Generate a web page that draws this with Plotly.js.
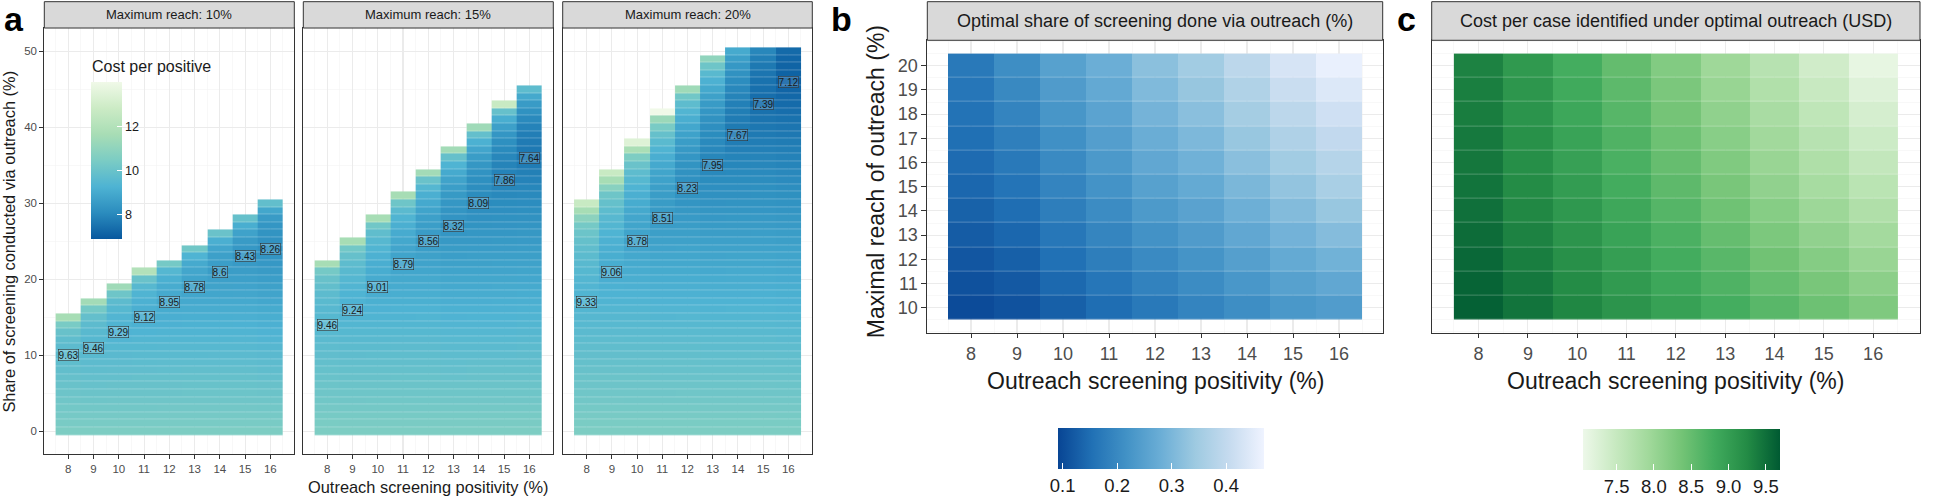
<!DOCTYPE html>
<html>
<head>
<meta charset="utf-8">
<script src="https://cdn.plot.ly/plotly-3.0.1.min.js"></script>
<style>
html,body{margin:0;padding:0;background:#fff;}
#chart{width:1946px;height:503px;}
</style>
</head>
<body>
<div id="chart"></div>
<script>
// ---------------- DATA ----------------
const positivity = [8, 9, 10, 11, 12, 13, 14, 15, 16];
const shareLevels = [0,1,2,3,4,5,6,7,8,9,10,11,12,13,14,15,16,17,18,19,20,21,22,23,24,25,26,27,28,29,30,31,32,33,34,35,36,37,38,39,40,41,42,43,44,45,46,47,48,49,50];
const reachLevels = [10, 11, 12, 13, 14, 15, 16, 17, 18, 19, 20];
const facetReach = [10, 15, 20];

// Panel a: cost per positive by share (index = share %), one array per positivity column
const costReach10 = [
  [10.5,10.41,10.33,10.24,10.15,10.07,9.98,9.89,9.80,9.72,9.63,9.66,9.75,9.95,10.4,11.6],
  [10.5,10.41,10.31,10.22,10.12,10.03,9.93,9.84,9.74,9.65,9.55,9.46,9.49,9.55,9.65,9.85,10.3,11.5],
  [10.5,10.41,10.31,10.22,10.13,10.03,9.94,9.85,9.76,9.66,9.57,9.48,9.38,9.29,9.32,9.38,9.48,9.65,10.1,11.4],
  [10.5,10.41,10.32,10.22,10.13,10.04,9.95,9.86,9.76,9.67,9.58,9.49,9.40,9.30,9.21,9.12,9.15,9.22,9.32,9.5,10.0,12.0],
  [10.5,10.41,10.32,10.23,10.14,10.04,9.95,9.86,9.77,9.68,9.59,9.50,9.41,9.31,9.22,9.13,9.04,8.95,8.98,9.05,9.18,9.45,10.3],
  [10.5,10.41,10.32,10.23,10.14,10.05,9.96,9.87,9.78,9.69,9.59,9.50,9.41,9.32,9.23,9.14,9.05,8.96,8.87,8.78,8.81,8.88,9.0,9.3,10.2],
  [10.5,10.41,10.32,10.23,10.14,10.05,9.96,9.87,9.78,9.69,9.60,9.50,9.41,9.32,9.23,9.14,9.05,8.96,8.87,8.78,8.69,8.60,8.63,8.7,8.85,9.15,10.0],
  [10.5,10.41,10.32,10.23,10.14,10.05,9.96,9.87,9.78,9.69,9.60,9.51,9.42,9.33,9.24,9.15,9.06,8.97,8.88,8.79,8.70,8.61,8.52,8.43,8.46,8.55,8.75,9.1,9.9],
  [10.5,10.41,10.31,10.22,10.13,10.03,9.94,9.85,9.75,9.66,9.57,9.47,9.38,9.29,9.19,9.10,9.01,8.91,8.82,8.73,8.63,8.54,8.45,8.35,8.26,8.28,8.32,8.4,8.55,8.9,9.8]
];
const costReach15 = [
  [10.5,10.43,10.35,10.28,10.20,10.13,10.05,9.98,9.91,9.83,9.76,9.68,9.61,9.53,9.46,9.48,9.52,9.58,9.66,9.78,9.95,10.3,11.6],
  [10.5,10.42,10.34,10.26,10.18,10.11,10.03,9.95,9.87,9.79,9.71,9.63,9.55,9.48,9.40,9.32,9.24,9.26,9.3,9.36,9.44,9.55,9.7,9.9,10.25,11.6],
  [10.5,10.42,10.34,10.26,10.19,10.11,10.03,9.95,9.87,9.79,9.72,9.64,9.56,9.48,9.40,9.32,9.25,9.17,9.09,9.01,9.03,9.07,9.13,9.22,9.34,9.5,9.75,10.2,11.6],
  [10.5,10.42,10.34,10.27,10.19,10.11,10.03,9.96,9.88,9.80,9.72,9.65,9.57,9.49,9.41,9.33,9.26,9.18,9.10,9.02,8.95,8.87,8.79,8.81,8.85,8.92,9.02,9.15,9.33,9.6,10.1,11.6],
  [10.5,10.42,10.34,10.27,10.19,10.11,10.03,9.96,9.88,9.80,9.72,9.65,9.57,9.49,9.41,9.34,9.26,9.18,9.10,9.03,8.95,8.87,8.79,8.72,8.64,8.56,8.58,8.62,8.7,8.81,8.96,9.16,9.45,10.0,11.5],
  [10.5,10.42,10.34,10.26,10.18,10.10,10.02,9.93,9.85,9.77,9.69,9.61,9.53,9.45,9.37,9.29,9.21,9.13,9.05,8.97,8.89,8.80,8.72,8.64,8.56,8.48,8.40,8.32,8.34,8.37,8.42,8.5,8.62,8.78,9.0,9.3,9.9,11.5],
  [10.5,10.42,10.34,10.26,10.18,10.10,10.02,9.94,9.86,9.78,9.70,9.62,9.54,9.46,9.38,9.30,9.21,9.13,9.05,8.97,8.89,8.81,8.73,8.65,8.57,8.49,8.41,8.33,8.25,8.17,8.09,8.11,8.14,8.2,8.29,8.42,8.6,8.85,9.2,9.85,11.4],
  [10.5,10.42,10.34,10.26,10.18,10.10,10.02,9.94,9.86,9.78,9.70,9.62,9.54,9.46,9.38,9.30,9.22,9.14,9.06,8.98,8.90,8.82,8.74,8.66,8.58,8.50,8.42,8.34,8.26,8.18,8.10,8.02,7.94,7.86,7.88,7.91,7.97,8.06,8.2,8.4,8.7,9.1,9.9,12.7],
  [10.5,10.42,10.34,10.26,10.18,10.10,10.02,9.94,9.86,9.79,9.71,9.63,9.55,9.47,9.39,9.31,9.23,9.15,9.07,8.99,8.91,8.83,8.75,8.67,8.59,8.51,8.44,8.36,8.28,8.20,8.12,8.04,7.96,7.88,7.80,7.72,7.64,7.66,7.7,7.77,7.88,8.04,8.26,8.55,8.95,9.7]
];
const costReach20 = [
  [10.5,10.43,10.36,10.29,10.22,10.16,10.09,10.02,9.95,9.88,9.81,9.74,9.67,9.61,9.54,9.47,9.40,9.33,9.35,9.38,9.42,9.48,9.55,9.64,9.75,9.88,10.05,10.3,10.9,11.6,12.7],
  [10.5,10.43,10.36,10.29,10.23,10.16,10.09,10.02,9.95,9.88,9.81,9.75,9.68,9.61,9.54,9.47,9.40,9.33,9.27,9.20,9.13,9.06,9.08,9.11,9.16,9.22,9.3,9.4,9.52,9.67,9.86,10.1,10.8,11.6,12.7],
  [10.5,10.43,10.36,10.29,10.22,10.16,10.09,10.02,9.95,9.88,9.81,9.74,9.67,9.61,9.54,9.47,9.40,9.33,9.26,9.19,9.12,9.06,8.99,8.92,8.85,8.78,8.8,8.83,8.88,8.95,9.04,9.15,9.3,9.48,9.7,10.0,10.5,11.7,13.4],
  [10.5,10.43,10.36,10.29,10.22,10.14,10.07,10.00,9.93,9.86,9.79,9.72,9.65,9.58,9.51,9.43,9.36,9.29,9.22,9.15,9.08,9.01,8.94,8.86,8.79,8.72,8.65,8.58,8.51,8.53,8.56,8.6,8.66,8.74,8.84,8.97,9.13,9.33,9.58,9.9,10.4,11.3,14.0],
  [10.5,10.43,10.36,10.29,10.22,10.15,10.07,10.00,9.93,9.86,9.79,9.72,9.65,9.58,9.51,9.44,9.37,9.29,9.22,9.15,9.08,9.01,8.94,8.87,8.80,8.73,8.66,8.59,8.51,8.44,8.37,8.30,8.23,8.25,8.28,8.33,8.4,8.49,8.6,8.74,8.91,9.12,9.38,9.7,10.2,11.4],
  [10.5,10.43,10.35,10.28,10.21,10.14,10.06,9.99,9.92,9.84,9.77,9.70,9.63,9.55,9.48,9.41,9.33,9.26,9.19,9.12,9.04,8.97,8.90,8.82,8.75,8.68,8.61,8.53,8.46,8.39,8.31,8.24,8.17,8.10,8.02,7.95,7.97,8.0,8.04,8.1,8.18,8.28,8.4,8.55,8.73,8.95,9.22,9.55,10.1,11.0],
  [10.5,10.43,10.35,10.28,10.21,10.14,10.06,9.99,9.92,9.85,9.77,9.70,9.63,9.56,9.48,9.41,9.34,9.27,9.19,9.12,9.05,8.98,8.90,8.83,8.76,8.69,8.61,8.54,8.47,8.39,8.32,8.25,8.18,8.10,8.03,7.96,7.89,7.81,7.74,7.67,7.69,7.72,7.76,7.82,7.9,8.0,8.12,8.27,8.45,8.67,9.0],
  [10.5,10.43,10.36,10.28,10.21,10.14,10.07,9.99,9.92,9.85,9.78,9.70,9.63,9.56,9.49,9.42,9.34,9.27,9.20,9.13,9.05,8.98,8.91,8.84,8.76,8.69,8.62,8.55,8.48,8.40,8.33,8.26,8.19,8.11,8.04,7.97,7.90,7.82,7.75,7.68,7.61,7.53,7.46,7.39,7.41,7.44,7.49,7.56,7.65,7.78,7.98],
  [10.5,10.43,10.35,10.28,10.21,10.13,10.06,9.99,9.91,9.84,9.77,9.69,9.62,9.54,9.47,9.40,9.32,9.25,9.18,9.10,9.03,8.96,8.88,8.81,8.74,8.66,8.59,8.52,8.44,8.37,8.30,8.22,8.15,8.07,8.00,7.93,7.85,7.78,7.71,7.63,7.56,7.49,7.41,7.34,7.27,7.19,7.12,7.14,7.17,7.22,7.3]
];

// Labelled optimum (share %, cost) per positivity column, per facet
const optShare10 = [10, 11, 13, 15, 17, 19, 21, 23, 24];
const optCost10  = [9.63, 9.46, 9.29, 9.12, 8.95, 8.78, 8.6, 8.43, 8.26];
const optShare15 = [14, 16, 19, 22, 25, 27, 30, 33, 36];
const optCost15  = [9.46, 9.24, 9.01, 8.79, 8.56, 8.32, 8.09, 7.86, 7.64];
const optShare20 = [17, 21, 25, 28, 32, 35, 39, 43, 46];
const optCost20  = [9.33, 9.06, 8.78, 8.51, 8.23, 7.95, 7.67, 7.39, 7.12];

// Panel b: optimal share (fraction), rows = reach 10..20, columns = positivity 8..16
const optShareGrid = [
  [0.100,0.110,0.130,0.150,0.170,0.190,0.210,0.230,0.240],
  [0.108,0.120,0.142,0.164,0.186,0.206,0.228,0.250,0.264],
  [0.116,0.130,0.154,0.178,0.202,0.222,0.246,0.270,0.288],
  [0.124,0.140,0.166,0.192,0.218,0.238,0.264,0.290,0.312],
  [0.132,0.150,0.178,0.206,0.234,0.254,0.282,0.310,0.336],
  [0.140,0.160,0.190,0.220,0.250,0.270,0.300,0.330,0.360],
  [0.146,0.170,0.202,0.232,0.264,0.286,0.318,0.350,0.380],
  [0.152,0.180,0.214,0.244,0.278,0.302,0.336,0.370,0.400],
  [0.158,0.190,0.226,0.256,0.292,0.318,0.354,0.390,0.420],
  [0.164,0.200,0.238,0.268,0.306,0.334,0.372,0.410,0.440],
  [0.170,0.210,0.250,0.280,0.320,0.350,0.390,0.430,0.460]
];
// Panel c: cost per case under optimal outreach (USD)
const optCostGrid = [
  [9.63,9.46,9.29,9.12,8.95,8.78,8.60,8.43,8.26],
  [9.60,9.42,9.23,9.05,8.87,8.69,8.50,8.32,8.14],
  [9.56,9.37,9.18,8.99,8.79,8.60,8.40,8.20,8.01],
  [9.53,9.33,9.12,8.92,8.72,8.50,8.29,8.09,7.89],
  [9.49,9.28,9.07,8.86,8.64,8.41,8.19,7.97,7.76],
  [9.46,9.24,9.01,8.79,8.56,8.32,8.09,7.86,7.64],
  [9.43,9.20,8.96,8.73,8.49,8.25,8.01,7.77,7.54],
  [9.41,9.17,8.92,8.68,8.43,8.17,7.92,7.67,7.43],
  [9.38,9.13,8.87,8.62,8.36,8.10,7.84,7.58,7.33],
  [9.36,9.10,8.83,8.57,8.30,8.02,7.75,7.48,7.22],
  [9.33,9.06,8.78,8.51,8.23,7.95,7.67,7.39,7.12]
];

// ---------------- STYLE ----------------
const W = 1946, H = 503;
const FONT = 'Liberation Sans, Arial, Helvetica, sans-serif';
const px = v => v / W;
const py = v => 1 - v / H;

const gnbu = [[0,'#08589e'],[1/6,'#2b8cbe'],[2/6,'#4eb3d3'],[3/6,'#7bccc4'],[4/6,'#a8ddb5'],[5/6,'#ccebc5'],[1,'#f0f9e8']];
const blues = [[0,'#084594'],[1/6,'#2171b5'],[2/6,'#4292c6'],[3/6,'#6baed6'],[4/6,'#9ecae1'],[5/6,'#c6dbef'],[1,'#eff3ff']];
const greens = [[0,'#edf8e9'],[1/6,'#c7e9c0'],[2/6,'#a1d99b'],[3/6,'#74c476'],[4/6,'#41ab5d'],[5/6,'#238b45'],[1,'#005a32']];

const facetCols = [costReach10, costReach15, costReach20];
const facetOptShare = [optShare10, optShare15, optShare20];
const facetOptCost = [optCost10, optCost15, optCost20];

const facetX = [[44.3, 294.3], [303.3, 553.3], [562.7, 812.3]];
const aTop = 28.3, aBot = 459, stripTopA = 1.7;
const bX = [927.3, 1382.7], cX = [1431.7, 1920];
const bcTop = 40.7, bcBot = 336.5;

const data = [];
const annotations = [];
const shapes = [];
const layout = {
  width: W, height: H,
  margin: {l: 0, r: 0, t: 0, b: 0},
  paper_bgcolor: '#ffffff', plot_bgcolor: '#ffffff',
  font: {family: FONT, color: '#1a1a1a'},
  showlegend: false,
  annotations: annotations, shapes: shapes
};

function baseX(dom, tickSize) {
  return {
    domain: dom, range: [7.05, 16.95], tickvals: positivity,
    ticks: 'outside', ticklen: 4, tickcolor: '#333333', tickwidth: 1,
    tickfont: {size: tickSize, color: '#4d4d4d', family: FONT},
    showgrid: true, gridcolor: '#ebebeb', gridwidth: 1.1,
    minor: {dtick: 0.5, tick0: 7.5, showgrid: true, gridcolor: '#f3f3f3', gridwidth: 0.6, ticks: ''},
    showline: true, mirror: true, linecolor: '#333333', linewidth: 1,
    zeroline: false, fixedrange: true
  };
}

// Panel a facets
for (let f = 0; f < 3; f++) {
  const cols = facetCols[f];
  const z = shareLevels.map((s) => cols.map(c => (s < c.length ? c[s] : null)));
  const n = f + 1;
  const xa = n === 1 ? 'xaxis' : 'xaxis' + n;
  const ya = n === 1 ? 'yaxis' : 'yaxis' + n;
  const xr = n === 1 ? 'x' : 'x' + n;
  const yr = n === 1 ? 'y' : 'y' + n;
  data.push({
    type: 'heatmap', x: positivity, y: shareLevels, z: z,
    xaxis: xr, yaxis: yr, coloraxis: 'coloraxis',
    ygap: 0.25, hoverinfo: 'skip', zsmooth: false
  });
  layout[xa] = baseX([px(facetX[f][0]), px(facetX[f][1])], 11.5);
  layout[xa].anchor = yr;
  layout[ya] = {
    domain: [py(aBot), py(aTop)], range: [-3.05, 53.05], anchor: xr,
    tickvals: [0, 10, 20, 30, 40, 50],
    showticklabels: f === 0, ticks: f === 0 ? 'outside' : '', ticklen: 4, tickcolor: '#333333',
    tickfont: {size: 11.5, color: '#4d4d4d', family: FONT},
    showgrid: true, gridcolor: '#ebebeb', gridwidth: 1.1,
    minor: {dtick: 5, tick0: 5, showgrid: true, gridcolor: '#f3f3f3', gridwidth: 0.6, ticks: ''},
    showline: true, mirror: true, linecolor: '#333333', linewidth: 1,
    zeroline: false, fixedrange: true
  };
  // strip
  shapes.push({type: 'rect', xref: 'paper', yref: 'paper',
    x0: px(facetX[f][0]), x1: px(facetX[f][1]), y0: py(aTop), y1: py(stripTopA),
    fillcolor: '#d9d9d9', line: {color: '#333333', width: 1}, layer: 'above'});
  annotations.push({xref: 'paper', yref: 'paper', x: px((facetX[f][0] + facetX[f][1]) / 2), y: py(15),
    text: 'Maximum reach: ' + facetReach[f] + '%', showarrow: false, xanchor: 'center', yanchor: 'middle',
    font: {size: 13, color: '#1a1a1a', family: FONT}});
  // optimum labels
  for (let j = 0; j < positivity.length; j++) {
    annotations.push({xref: xr, yref: yr, x: positivity[j], y: facetOptShare[f][j],
      text: String(facetOptCost[f][j]), showarrow: false, xanchor: 'center', yanchor: 'middle',
      font: {size: 10, color: '#1a1a1a', family: FONT},
      bordercolor: '#333333', borderwidth: 0.6, borderpad: 0, bgcolor: 'rgba(255,255,255,0.12)'});
  }
}

// Panel b
data.push({type: 'heatmap', x: positivity, y: reachLevels, z: optShareGrid,
  xaxis: 'x4', yaxis: 'y4', coloraxis: 'coloraxis2', ygap: 0.25, hoverinfo: 'skip'});
layout.xaxis4 = baseX([px(bX[0]), px(bX[1])], 18);
layout.xaxis4.anchor = 'y4';
layout.yaxis4 = {
  domain: [py(bcBot), py(bcTop)], range: [8.95, 21.05], anchor: 'x4',
  tickvals: reachLevels, ticks: 'outside', ticklen: 5, tickcolor: '#333333',
  tickfont: {size: 18, color: '#4d4d4d', family: FONT},
  showgrid: true, gridcolor: '#ebebeb', gridwidth: 1.1,
  minor: {dtick: 0.5, tick0: 9.5, showgrid: true, gridcolor: '#f3f3f3', gridwidth: 0.6, ticks: ''},
  showline: true, mirror: true, linecolor: '#333333', linewidth: 1,
  zeroline: false, fixedrange: true
};
// Panel c
data.push({type: 'heatmap', x: positivity, y: reachLevels, z: optCostGrid,
  xaxis: 'x5', yaxis: 'y5', coloraxis: 'coloraxis3', ygap: 0.25, hoverinfo: 'skip'});
layout.xaxis5 = baseX([px(cX[0]), px(cX[1])], 18);
layout.xaxis5.anchor = 'y5';
layout.yaxis5 = {
  domain: [py(bcBot), py(bcTop)], range: [8.95, 21.05], anchor: 'x5',
  tickvals: reachLevels, ticks: '', showticklabels: false,
  showgrid: true, gridcolor: '#ebebeb', gridwidth: 1.1,
  minor: {dtick: 0.5, tick0: 9.5, showgrid: true, gridcolor: '#f3f3f3', gridwidth: 0.6, ticks: ''},
  showline: true, mirror: true, linecolor: '#333333', linewidth: 1,
  zeroline: false, fixedrange: true
};

// strips b, c
[[bX, 'Optimal share of screening done via outreach (%)'], [cX, 'Cost per case identified under optimal outreach (USD)']].forEach(([xx, t]) => {
  shapes.push({type: 'rect', xref: 'paper', yref: 'paper', x0: px(xx[0]), x1: px(xx[1]), y0: py(bcTop), y1: py(1.7),
    fillcolor: '#d9d9d9', line: {color: '#333333', width: 1}, layer: 'above'});
  annotations.push({xref: 'paper', yref: 'paper', x: px((xx[0] + xx[1]) / 2), y: py(21.5), text: t,
    showarrow: false, xanchor: 'center', yanchor: 'middle', font: {size: 18, color: '#1a1a1a', family: FONT}});
});

// Color axes
layout.coloraxis = {
  colorscale: gnbu, cmin: 6.9, cmax: 14.0,
  colorbar: {x: px(90.7), xanchor: 'left', y: py(82.7), yanchor: 'top',
    len: 157, lenmode: 'pixels', thickness: 31, thicknessmode: 'pixels',
    outlinewidth: 0, xpad: 0, ypad: 0,
    tickvals: [8, 10, 12], ticks: 'inside', ticklen: 5, tickcolor: '#ffffff', tickwidth: 1,
    tickfont: {size: 12.6, color: '#1a1a1a', family: FONT}}
};
layout.coloraxis2 = {
  colorscale: blues, cmin: 0.091, cmax: 0.469,
  colorbar: {orientation: 'h', x: px(1057.7), xanchor: 'left', y: py(432.3), yanchor: 'top',
    len: 206, lenmode: 'pixels', thickness: 41, thicknessmode: 'pixels',
    outlinewidth: 0, xpad: 0, ypad: 0,
    tickvals: [0.1, 0.2, 0.3, 0.4], ticks: 'inside', ticklen: 6, tickcolor: '#ffffff', tickwidth: 1,
    tickfont: {size: 18.5, color: '#1a1a1a', family: FONT}}
};
layout.coloraxis3 = {
  colorscale: greens, cmin: 7.05, cmax: 9.69,
  colorbar: {orientation: 'h', x: px(1583), xanchor: 'left', y: py(433.3), yanchor: 'top',
    len: 197, lenmode: 'pixels', thickness: 41, thicknessmode: 'pixels',
    outlinewidth: 0, xpad: 0, ypad: 0,
    tickvals: [7.5, 8, 8.5, 9, 9.5], ticktext: ['7.5', '8.0', '8.5', '9.0', '9.5'],
    ticks: 'inside', ticklen: 6, tickcolor: '#ffffff', tickwidth: 1,
    tickfont: {size: 18.5, color: '#1a1a1a', family: FONT}}
};

// Legend title (panel a)
annotations.push({xref: 'paper', yref: 'paper', x: px(90), y: py(67), text: 'Cost per positive',
  showarrow: false, xanchor: 'left', yanchor: 'middle', font: {size: 16, color: '#1a1a1a', family: FONT}});

// Axis titles
annotations.push({xref: 'paper', yref: 'paper', x: px(428), y: py(491.5), text: 'Outreach screening positivity (%)',
  showarrow: false, xanchor: 'center', yanchor: 'middle', font: {size: 16.4, color: '#1a1a1a', family: FONT}});
annotations.push({xref: 'paper', yref: 'paper', x: px(9), y: py(244), text: 'Share of screening conducted via outreach (%)',
  textangle: -90, showarrow: false, xanchor: 'center', yanchor: 'middle', font: {size: 16.4, color: '#1a1a1a', family: FONT}});
annotations.push({xref: 'paper', yref: 'paper', x: px((bX[0] + bX[1]) / 2), y: py(385), text: 'Outreach screening positivity (%)',
  showarrow: false, xanchor: 'center', yanchor: 'middle', font: {size: 23, color: '#1a1a1a', family: FONT}});
annotations.push({xref: 'paper', yref: 'paper', x: px((cX[0] + cX[1]) / 2), y: py(385), text: 'Outreach screening positivity (%)',
  showarrow: false, xanchor: 'center', yanchor: 'middle', font: {size: 23, color: '#1a1a1a', family: FONT}});
annotations.push({xref: 'paper', yref: 'paper', x: px(876), y: py(184), text: 'Maximal reach of outreach (%)',
  textangle: -90, showarrow: false, xanchor: 'center', yanchor: 'middle', font: {size: 23, color: '#1a1a1a', family: FONT}});

// Panel letters
[['a', 13.5], ['b', 841.5], ['c', 1406]].forEach(([t, xx]) => {
  annotations.push({xref: 'paper', yref: 'paper', x: px(xx), y: py(19), text: '<b>' + t + '</b>',
    showarrow: false, xanchor: 'center', yanchor: 'middle', font: {size: 34, color: '#000000', family: FONT}});
});

Plotly.newPlot('chart', data, layout, {staticPlot: true, displayModeBar: false});
</script>
</body>
</html>
